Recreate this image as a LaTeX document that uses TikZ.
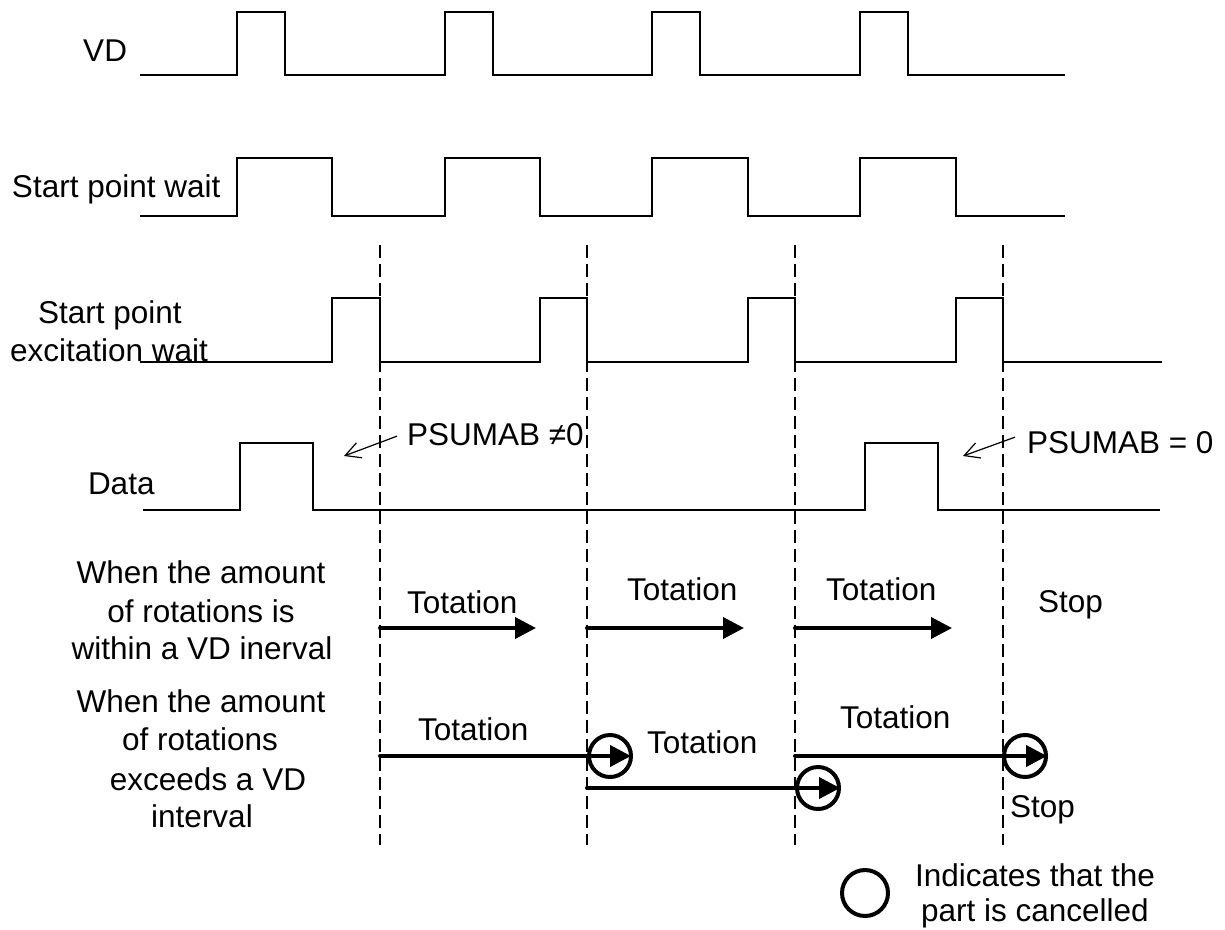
\documentclass[tikz,border=0pt]{standalone}
\usepackage{fontspec}
\setmainfont{Liberation Sans}
\usetikzlibrary{arrows.meta}
\begin{document}
\begin{tikzpicture}[x=1pt,y=-1pt,
  every node/.style={inner sep=0pt, outer sep=0pt, font=\fontsize{31.5}{38}\selectfont},
  sig/.style={line width=2.6pt, line join=miter},
  gridline/.style={line width=1.3pt, dash pattern=on 13pt off 6pt},
  run/.style={line width=4pt, line cap=round, -{Triangle[length=21pt,width=21pt]}},
  cancel/.style={circle, draw, line width=4pt, minimum size=42pt},
  callout/.style={line width=1.2pt, -{Straight Barb[length=15pt,width=16pt]}},
]
\useasboundingbox (0,0) rectangle (1225,929);

% signal names
\node[anchor=base east] (lVD) at (127,61) {VD};
\node[anchor=base west] (lSPW) at (12,197) {Start point wait};
\node[anchor=base] (lSPE1) at (110,323) {Start point};
\node[anchor=base] (lSPE2) at (109,361) {excitation wait};
\node[anchor=base west] (lData) at (88,494) {Data};

% waveforms
\draw[sig] (140,75) -- (237,75) |- (285,12) |- (445,75) |- (493,12) |- (652,75)
  |- (700,12) |- (860,75) |- (908,12) |- (1065,75);
\draw[sig] (140,216) -- (237,216) |- (332,158) |- (445,216) |- (540,158) |- (652,216)
  |- (748,158) |- (860,216) |- (956,158) |- (1065,216);
\draw[sig] (140,362) -- (332,362) |- (380,298) |- (540,362) |- (587,298) |- (748,362)
  |- (795,298) |- (956,362) |- (1003,298) |- (1162,362);
\draw[sig] (143,510) -- (240,510) |- (313,443) |- (865,510) |- (938,443) |- (1160,510);

% timing marks at the falling edges of the excitation wait
\foreach \x in {380,587,795,1003}
  \draw[gridline] (\x,245) -- (\x,845);

% PSUMAB notes
\node[anchor=base west] (ps1) at (407,445) {PSUMAB ≠0};
\node[anchor=base west] (ps2) at (1027,453) {PSUMAB = 0};
\coordinate (ps1tip) at (344,456);
\coordinate (ps2tip) at (963,456);
\draw[callout] ([xshift=-10pt,yshift=-2pt]ps1.west) -- (ps1tip);
\draw[callout] ([xshift=-12pt,yshift=5pt]ps2.west) -- (ps2tip);

% case 1: rotations within a VD interval
\node[anchor=base] (p1a) at (201,583) {When the amount};
\node[anchor=base] (p1b) at (201,622) {of rotations is};
\node[anchor=base] (p1c) at (202,659) {within a VD inerval};

\coordinate (a1s) at (380,628); \coordinate (a1e) at (536,628);
\coordinate (a2s) at (587,628); \coordinate (a2e) at (744,628);
\coordinate (a3s) at (795,628); \coordinate (a3e) at (952,628);
\draw[run] (a1s) -- (a1e);
\draw[run] (a2s) -- (a2e);
\draw[run] (a3s) -- (a3e);
\node[anchor=base west] (r1a) at (407,613) {Totation};
\node[anchor=base west] (r1b) at (627,600) {Totation};
\node[anchor=base west] (r1c) at (826,600) {Totation};
\node[anchor=base west] (r1s) at (1038,612) {Stop};

% case 2: rotations exceed a VD interval
\node[anchor=base] (p2a) at (201,712) {When the amount};
\node[anchor=base] (p2b) at (200,750) {of rotations};
\node[anchor=base] (p2c) at (208,790) {exceeds a VD};
\node[anchor=base] (p2d) at (202,827) {interval};

\node[cancel] (c1) at (610,756) {};
\node[cancel] (c2) at (818,788) {};
\node[cancel] (c3) at (1025,756) {};
\coordinate (b1s) at (380,756); \coordinate (b1e) at (631,756);
\coordinate (b2s) at (587,788); \coordinate (b2e) at (840,788);
\coordinate (b3s) at (795,756); \coordinate (b3e) at (1047,756);
\draw[run] (b1s) -- (b1e);
\draw[run] (b2s) -- (b2e);
\draw[run] (b3s) -- (b3e);
\node[anchor=base west] (r2a) at (418,740) {Totation};
\node[anchor=base west] (r2b) at (647,753) {Totation};
\node[anchor=base west] (r2c) at (840,728) {Totation};
\node[anchor=base west] (r2s) at (1010,817) {Stop};

% legend
\node[cancel, minimum size=46pt] (legc) at (865,893) {};
\node[anchor=base] (leg1) at (1035,886) {Indicates that the};
\node[anchor=base] (leg2) at (1035,921) {part is cancelled};
\end{tikzpicture}
\end{document}
